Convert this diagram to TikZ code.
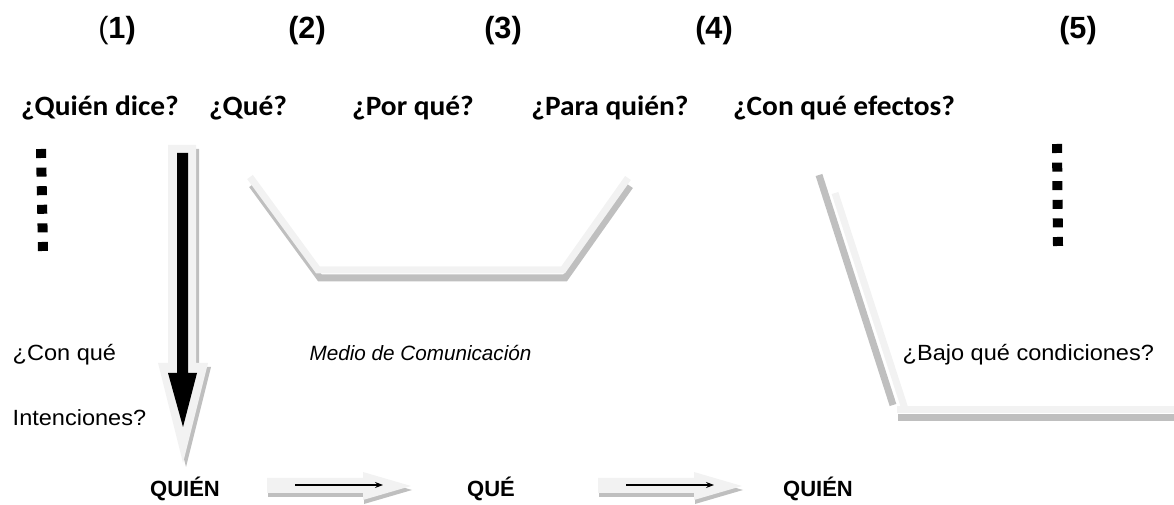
\documentclass[tikz,border=0pt]{standalone}
\usepackage{fontspec}
\setmainfont{Liberation Sans}
\newfontfamily\hdfont[FakeStretch=1.05]{Carlito}
\newfontfamily\txfont[FakeStretch=1.07]{Liberation Sans}
\usepackage[HTML]{xcolor}
\usetikzlibrary{arrows.meta}
\definecolor{paleg}{HTML}{F2F2F2}
\definecolor{shadeg}{HTML}{BFBFBF}

\begin{document}
\begin{tikzpicture}[x=0.75pt,y=-0.75pt,
  num/.style={anchor=base,font=\fontsize{23}{26}\selectfont\bfseries},
  ask/.style={anchor=base,font=\hdfont\fontsize{21}{24}\selectfont\bfseries},
  note/.style={anchor=base west,font=\txfont\fontsize{16.5}{19}\selectfont},
  who/.style={anchor=base,font=\fontsize{16.5}{19}\selectfont\bfseries},
  pale/.style={draw=paleg,line width=5.25pt},
  shade/.style={draw=shadeg,line width=5.25pt},
  dots/.style={line width=7.5pt,dash pattern=on 6.75pt off 7.2pt}]
\useasboundingbox (0,0) rectangle (1174,505);
% numbers of the steps
\node[num] (n1) at (117,39) {{\mdseries(}1)};
\node[num] (n2) at (307,39) {(2)};
\node[num] (n3) at (503,39) {(3)};
\node[num] (n4) at (714,39) {(4)};
\node[num] (n5) at (1078,39) {(5)};
% questions
\node[ask] (q1) at (100,116) {¿Quién dice?};
\node[ask] (q2) at (248,116) {¿Qué?};
\node[ask] (q3) at (413,116) {¿Por qué?};
\node[ask] (q4) at (610,116) {¿Para quién?};
\node[ask] (q5) at (844,116) {¿Con qué efectos?};
% dotted columns
\draw[dots] (41,149) -- (43,251);
\draw[dots] (1057,144) -- (1058,246);
% big arrow down
\fill[shadeg] (171,149) -- (199,149) -- (199,367) -- (211,367) -- (186,467) -- (161,367) -- (171,367) -- cycle;
\fill[paleg] (168,145) -- (196,145) -- (196,363) -- (208,363) -- (183,463) -- (158,363) -- (168,363) -- cycle;
\fill[black] (177,153) -- (188,153) -- (188,373) -- (197,373) -- (183,427) -- (168,373) -- (177,373) -- cycle;
% the medium
\draw[shade] (252,185) -- (320,278) -- (565,278) -- (630,186);
\draw[pale] (250,177) -- (318,270) -- (563,270) -- (628,178);
% conditions
\draw[shade] (898,418) -- (1174,418);
\draw[pale] (897,410) -- (1174,410);
\draw[shade] (819,175) -- (893,405);
\draw[pale] (835,193) -- (905,409);
% texts
\node[note] (c1) at (8,361) {¿Con qué};
\node[note] (c2) at (8,426) {Intenciones?};
\node[note,font=\fontsize{15.5}{18}\selectfont\itshape] (md) at (305,361) {Medio de Comunicación};
\node[note] (bc) at (898,361) {¿Bajo qué condiciones?};
% bottom row
\node[who] (w1) at (185,497) {QUIÉN};
\node[who] (w2) at (491,497) {QUÉ};
\node[who] (w3) at (818,497) {QUIÉN};
\foreach \x in {267,598} {
  \fill[shadeg] (\x+1,482) -- (\x+97,482) -- (\x+97,476) -- (\x+145,490) -- (\x+97,504) -- (\x+97,497) -- (\x+1,497) -- cycle;
  \fill[paleg] (\x,478) -- (\x+96,478) -- (\x+96,472) -- (\x+144,486) -- (\x+96,500) -- (\x+96,493) -- (\x,493) -- cycle;
  \draw[line width=0.8pt,-{Stealth[length=6pt,width=4.5pt]}] (\x+28,485) -- (\x+116,485);
}
\end{tikzpicture}
\end{document}
